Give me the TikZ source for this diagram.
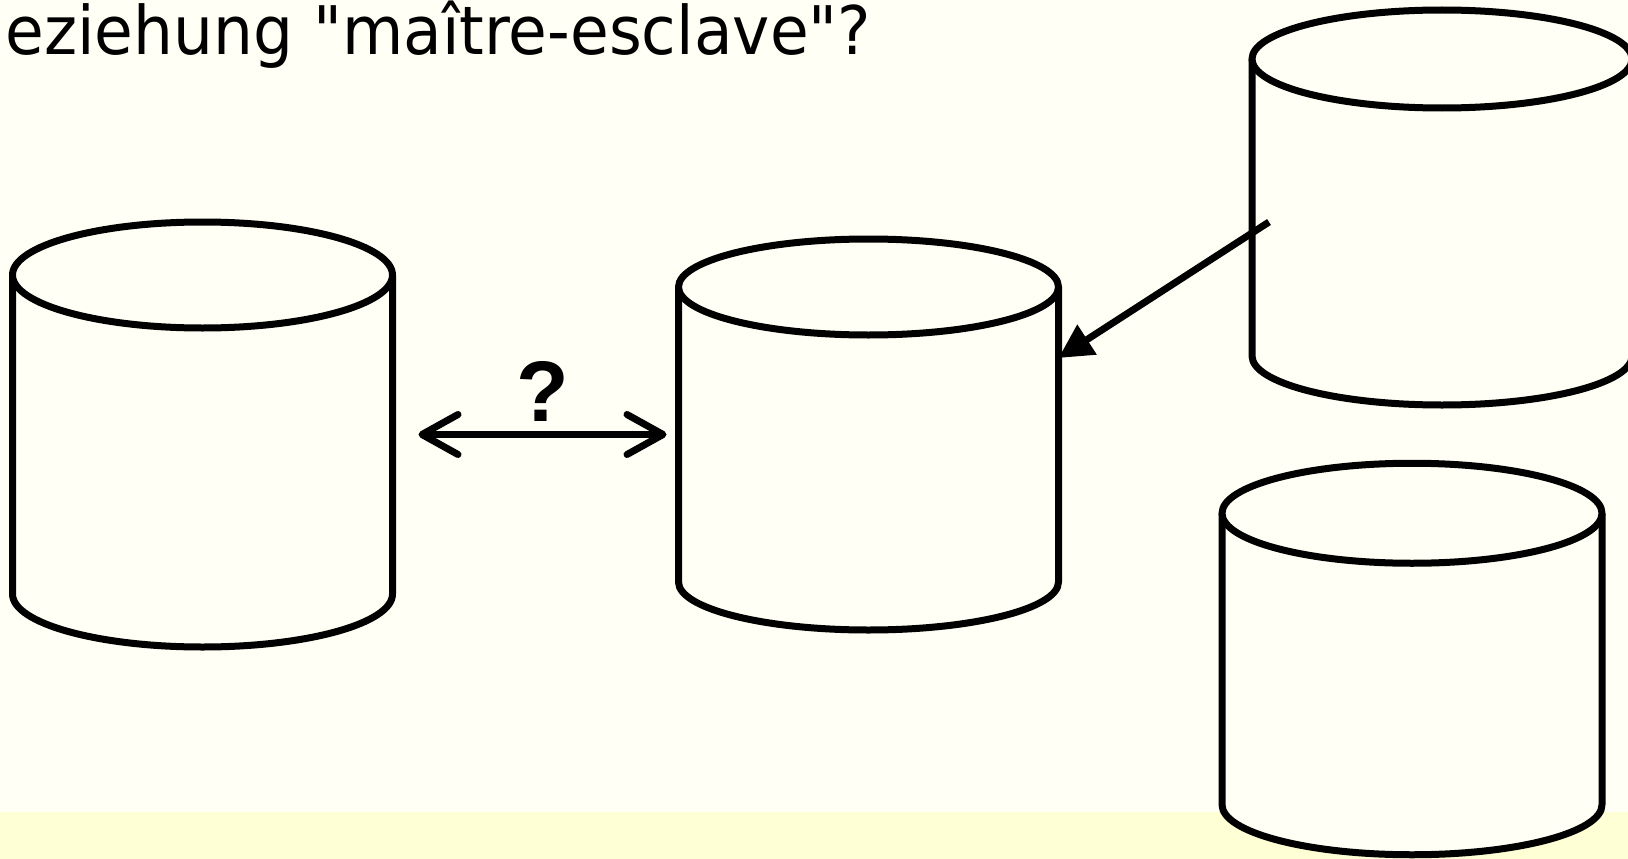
\documentclass[tikz,border=0pt]{standalone}
\usepackage{fontspec}
\setmainfont{DejaVu Sans}[FakeStretch=0.94,Ligatures=TeXOff]
\newfontfamily\fragefont{Liberation Sans}
\usetikzlibrary{arrows.meta,calc}
\definecolor{hgrund}{RGB}{255,255,245}
\definecolor{leiste}{RGB}{255,255,214}

\begin{document}
\begin{tikzpicture}[x=1pt,y=-1pt,line width=7pt,line join=round,
  koerper/.style={minimum width=380pt,inner sep=0pt,outer sep=0pt},
  barb/.tip={Straight Barb[length=36pt,width=40pt,round]}]

\useasboundingbox (0,0) rectangle (1628,859);
\fill[hgrund] (0,0) rectangle (1628,859);
\fill[leiste] (0,812) rectangle (1628,859);

\node[anchor=base west,inner sep=0pt,font=\fontsize{67}{80}\selectfont] (titel) at (2,55) {eziehung "maître-esclave"?};

\node[koerper,minimum height=319pt] (links) at (202.5,434.5) {};
\node[koerper,minimum height=295pt] (mitte) at (868.5,434.5) {};
\node[koerper,minimum height=297pt] (oben) at (1442,207.5) {};
\node[koerper,minimum height=291.5pt] (unten) at (1412,659) {};

\foreach \n/\ry in {links/53,mitte/48,oben/49,unten/50}{
\fill[hgrund] (\n.north west) -- (\n.south west)
  arc[start angle=180,end angle=360,x radius=190pt,y radius=\ry pt] -- (\n.north east) -- cycle;
\draw (\n.north west) -- (\n.south west)
  arc[start angle=180,end angle=360,x radius=190pt,y radius=\ry pt] -- (\n.north east);
\filldraw[fill=hgrund] (\n.north) ellipse[x radius=190pt,y radius=\ry pt];
}

\coordinate (l) at ([xshift=26pt]links.east);
\coordinate (r) at ([xshift=-12pt]mitte.west);
\draw[barb-barb] (l) -- (r);
\node[font=\fragefont\bfseries\fontsize{86}{100}\selectfont,anchor=base,inner sep=0pt] (frage) at ([yshift=13pt]$(l)!.5!(r)$) {?};

\coordinate (start) at ([xshift=17pt,yshift=-14.5pt]oben.west);
\coordinate (spitze) at ([yshift=76.5pt]mitte.east);
\draw[-{Triangle[length=34pt,width=34pt]}] (start) -- (spitze);
\end{tikzpicture}
\end{document}
